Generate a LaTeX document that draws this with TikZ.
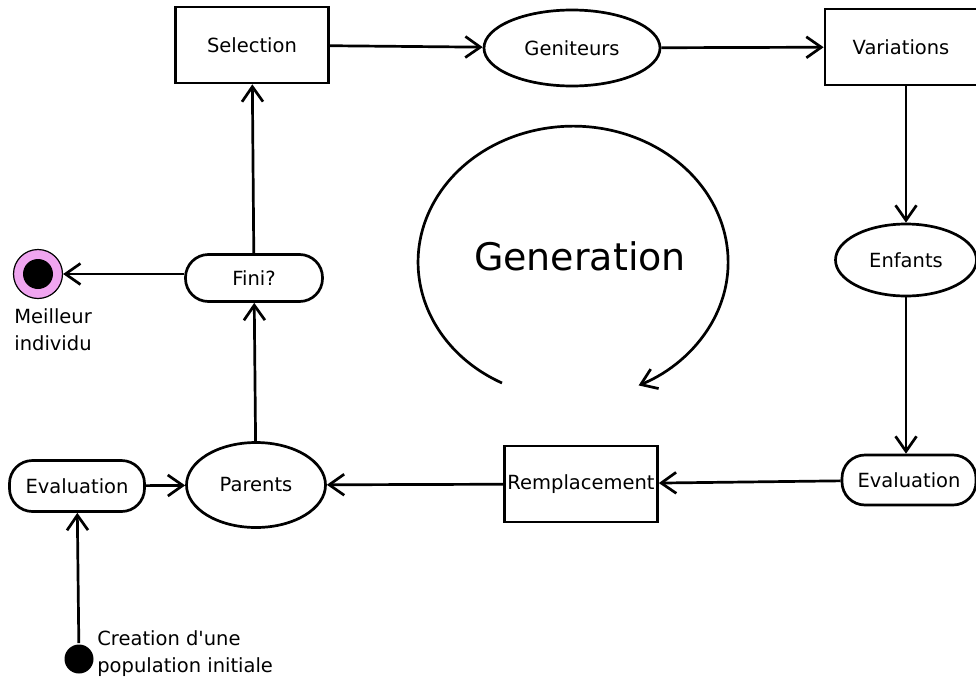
\documentclass[tikz,border=0pt]{standalone}
\usepackage{fontspec}
\setmainfont{DejaVu Sans}
\usetikzlibrary{arrows.meta,shapes.geometric}

\begin{document}
\begin{tikzpicture}[x=1pt,y=-1pt,line width=2.7pt,
  every node/.style={font=\fontsize{19.5}{27}\selectfont},
  box/.style={draw,rectangle,minimum width=153pt,minimum height=76pt,inner sep=0pt},
  oval/.style={draw,ellipse,inner sep=0pt},
  pill/.style={draw,rectangle,rounded corners=23pt,minimum height=48pt,inner sep=0pt},
  flow/.style={-{Straight Barb[length=15pt,width=21pt]}}]
  \definecolor{cEnd}{RGB}{240,165,240}

  \useasboundingbox (0,0) rectangle (976,680);

  % top row
  \node[box] (sel) at (252,45) {Selection};
  \node[oval,minimum width=176pt,minimum height=76pt] (gen) at (572,48) {Geniteurs};
  \node[box,minimum width=152pt] (var) at (901,47) {Variations};

  % right column
  \node[oval,minimum width=141pt,minimum height=72pt] (enf) at (906,260) {Enfants};
  \node[pill,minimum width=134pt,minimum height=50pt] (evalR) at (909,480) {Evaluation};

  % bottom row
  \node[box] (rem) at (581,484) {Remplacement};
  \node[oval,minimum width=139pt,minimum height=85pt] (par) at (256,485) {Parents};
  \node[pill,minimum width=135pt,minimum height=51pt] (evalL) at (77,486) {Evaluation};

  % left column
  \node[pill,minimum width=137pt,minimum height=47pt] (fini) at (254,278) {Fini?};
  \node[circle,draw,fill=cEnd,line width=1.2pt,minimum size=49pt,inner sep=0pt] (best) at (38,274) {};
  \node[circle,fill=black,minimum size=30pt,inner sep=0pt] (bestdot) at (best) {};
  \node[anchor=north west,align=left,inner sep=0pt] (bestlbl) at (13,307) {Meilleur\\individu};
  \node[circle,fill=black,minimum size=29pt,inner sep=0pt] (start) at (79,659) {};
  \node[anchor=north west,align=left,inner sep=0pt] (startlbl) at (96,629)
    {Creation d\textquotesingle une\\population initiale};

  % loop in the middle
  \node[font=\fontsize{38}{40}\selectfont] (gentxt) at (580,256) {Generation};
  \coordinate (loopstart) at (502,383);
  \draw[flow] (loopstart) arc[start angle=-117.3,end angle=-425,x radius=155pt,y radius=136pt];

  % connectors
  \draw[flow] (sel) -- (gen);
  \draw[flow] (gen) -- (var);
  \draw[flow] (var.south -| enf.north) -- (enf.north);
  \draw[flow] (enf.south) -- (enf.south |- evalR.north);
  \draw[flow] (evalR) -- (rem);
  \draw[flow] (rem) -- (par);
  \draw[flow] (evalL) -- (par);
  \draw[flow] (start) -- (evalL);
  \draw[flow] (par) -- (fini);
  \draw[flow] (fini) -- (sel);
  \draw[flow] (fini.west |- best) -- (best);
\end{tikzpicture}
\end{document}
